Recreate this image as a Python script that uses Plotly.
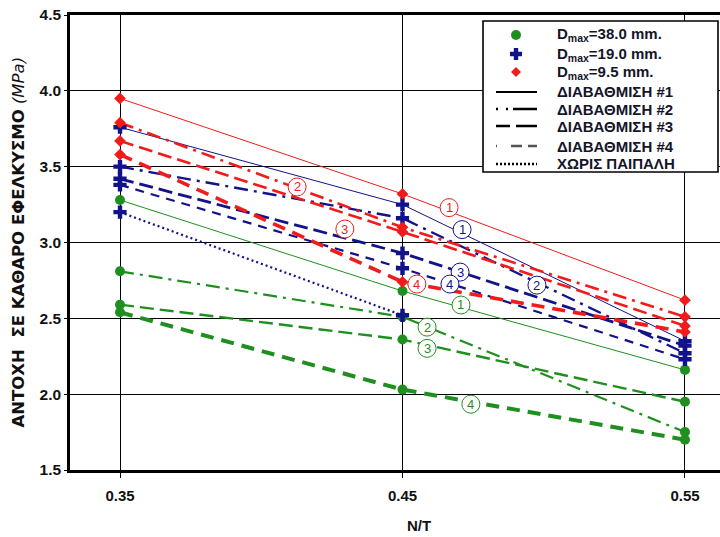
import plotly.graph_objects as go

# N/T ratios
nt = [0.35, 0.45, 0.55]
nt_no_fines = [0.35, 0.45]

# Tensile strength (MPa), Dmax = 38.0 mm (gradings #1..#4)
g38_1 = [3.28, 2.68, 2.16]
g38_2 = [2.81, 2.51, 1.75]
g38_3 = [2.59, 2.36, 1.95]
g38_4 = [2.54, 2.03, 1.70]

# Dmax = 19.0 mm
g19_1 = [3.76, 3.25, 2.35]
g19_2 = [3.50, 3.16, 2.27]
g19_3 = [3.42, 2.93, 2.32]
g19_4 = [3.38, 2.83, 2.23]
g19_nofines = [3.20, 2.52]

# Dmax = 9.5 mm
g95_1 = [3.95, 3.32, 2.62]
g95_2 = [3.79, 3.10, 2.51]
g95_3 = [3.67, 3.07, 2.45]
g95_4 = [3.58, 2.74, 2.41]

y_ticks = [1.5, 2.0, 2.5, 3.0, 3.5, 4.0, 4.5]
x_ticks = ["0.35", "0.45", "0.55"]

legend_marker_names = ["D<sub>max</sub>=38.0 mm.", "D<sub>max</sub>=19.0 mm.", "D<sub>max</sub>=9.5 mm."]
legend_line_names = ["ΔΙΑΒΑΘΜΙΣΗ #1", "ΔΙΑΒΑΘΜΙΣΗ #2", "ΔΙΑΒΑΘΜΙΣΗ #3",
                     "ΔΙΑΒΑΘΜΙΣΗ #4", "ΧΩΡΙΣ ΠΑΙΠΑΛΗ"]

GREEN = "#1f8f1f"
BLUE = "#12128a"
RED = "#f21a1a"
TXT = "#15152a"

marker_of = {
    GREEN: dict(symbol="circle", size=10, color=GREEN),
    BLUE: dict(symbol="cross", size=11, color=BLUE),
    RED: dict(symbol="diamond", size=9, color=RED),
}

DASH1 = "solid"
DASH2 = "14px,6px,3px,6px"
DASH3 = "14px,6px"
DASH4 = "13px,8px"
DOTS = "2px,3px"

series = [
    # (y, colour, dash, width)
    (g38_1, GREEN, DASH1, 1.0),
    (g38_2, GREEN, DASH2, 2.2),
    (g38_3, GREEN, DASH3, 2.4),
    (g38_4, GREEN, DASH4, 4.0),
    (g19_1, BLUE, DASH1, 1.0),
    (g19_2, BLUE, DASH2, 2.4),
    (g19_3, BLUE, DASH3, 2.8),
    (g19_4, BLUE, "9px,7px", 2.2),
    (g95_1, RED, DASH1, 1.0),
    (g95_2, RED, DASH2, 2.6),
    (g95_3, RED, DASH3, 2.6),
    (g95_4, RED, DASH4, 3.6),
]

fig = go.Figure()

for y, col, dash, w in series:
    fig.add_trace(go.Scatter(
        x=nt, y=y, mode="lines", showlegend=False, hoverinfo="skip",
        line=dict(color=col, dash=dash, width=w),
    ))

fig.add_trace(go.Scatter(
    x=nt_no_fines, y=g19_nofines, mode="lines", showlegend=False,
    line=dict(color=BLUE, dash=DOTS, width=2.2),
))

# point markers on top of the lines
for y, col, _, _ in series:
    fig.add_trace(go.Scatter(
        x=nt, y=y, mode="markers", showlegend=False, marker=marker_of[col],
    ))
fig.add_trace(go.Scatter(
    x=nt_no_fines, y=g19_nofines, mode="markers", showlegend=False,
    marker=marker_of[BLUE],
))

# ---- key box (built from shapes + annotations) ----
PLOT_L, PLOT_W, PLOT_B, PLOT_H = 70, 650, 470, 455


def px(xp):
    return (xp - PLOT_L) / PLOT_W


def py(yp):
    return (PLOT_B - yp) / PLOT_H


fig.add_shape(type="rect", xref="paper", yref="paper",
              x0=px(483), x1=px(718), y0=py(172), y1=py(21),
              line=dict(color="black", width=1.6), fillcolor="white", layer="above")

row_y = [35, 54, 72, 92, 109, 126, 146, 164]
sym_x = 516
text_x = 555

symbol_paths = {
    BLUE: "M-2.2,-6 L2.2,-6 L2.2,-2.2 L6,-2.2 L6,2.2 L2.2,2.2 L2.2,6 L-2.2,6 "
          "L-2.2,2.2 L-6,2.2 L-6,-2.2 L-2.2,-2.2 Z",
    RED: "M0,-5 L5,0 L0,5 L-5,0 Z",
}
for name, col, ry in zip(legend_marker_names, [GREEN, BLUE, RED], row_y[:3]):
    if col == GREEN:
        fig.add_shape(type="circle", xref="paper", yref="paper",
                      xsizemode="pixel", ysizemode="pixel",
                      xanchor=px(sym_x), yanchor=py(ry), x0=-5, x1=5, y0=-5, y1=5,
                      line=dict(width=0), fillcolor=col, layer="above")
    else:
        fig.add_shape(type="path", xref="paper", yref="paper",
                      xsizemode="pixel", ysizemode="pixel",
                      xanchor=px(sym_x), yanchor=py(ry), path=symbol_paths[col],
                      line=dict(width=0), fillcolor=col, layer="above")
    fig.add_annotation(x=px(text_x), y=py(ry), xref="paper", yref="paper",
                       xanchor="left", yanchor="middle", showarrow=False, text=f"<b>{name}</b>",
                       font=dict(family="Liberation Sans", size=15, color=TXT))

key_styles = [
    ("black", "solid", 2.2),
    ("black", "2px,8px,2px,5px,24px,3px", 2.6),
    ("black", "14px,6px,22px,3px", 2.6),
    ("#555555", "1px,14px,11px,6px,9px,4px", 2.4),
    ("black", "2px,2px", 2.4),
]
for name, (col, dash, w), ry in zip(legend_line_names, key_styles, row_y[3:]):
    fig.add_shape(type="line", xref="paper", yref="paper",
                  x0=px(496), x1=px(537), y0=py(ry), y1=py(ry),
                  line=dict(color=col, dash=dash, width=w), layer="above")
    fig.add_annotation(x=px(text_x), y=py(ry), xref="paper", yref="paper",
                       xanchor="left", yanchor="middle", showarrow=False, text=f"<b>{name}</b>",
                       font=dict(family="Liberation Sans", size=15, color=TXT))

# circled grading numbers next to the lines
labels = [
    ("1", RED, 0.4665, 3.23), ("1", BLUE, 0.4711, 3.085), ("1", GREEN, 0.4707, 2.588),
    ("2", RED, 0.4127, 3.366), ("2", BLUE, 0.4976, 2.719), ("2", GREEN, 0.4587, 2.442),
    ("3", RED, 0.4296, 3.089), ("3", BLUE, 0.4704, 2.805), ("3", GREEN, 0.4587, 2.302),
    ("4", RED, 0.4551, 2.726), ("4", BLUE, 0.4668, 2.726), ("4", GREEN, 0.4742, 1.934),
]
for txt, col, lx, ly in labels:
    fig.add_shape(type="circle", xref="x", yref="y", xsizemode="pixel", ysizemode="pixel",
                  xanchor=lx, yanchor=ly, x0=-9, x1=9, y0=-9, y1=9,
                  line=dict(color=col, width=1), fillcolor="white", layer="above")
    fig.add_annotation(x=lx, y=ly, xref="x", yref="y", text=txt, showarrow=False,
                       font=dict(family="Liberation Sans", size=13, color=col))

# axis titles
fig.add_annotation(
    x=-0.08, y=0.5, xref="paper", yref="paper", xanchor="center", yanchor="middle",
    textangle=-90, showarrow=False,
    text="<b>ΑΝΤΟΧΗ  ΣΕ ΚΑΘΑΡΟ ΕΦΕΛΚΥΣΜΟ</b> <i>(MPa)</i>",
    font=dict(family="DejaVu Sans", size=16.5, color="#111111"),
)
fig.add_annotation(
    x=0.456, y=-0.121, xref="x", yref="paper", xanchor="center", yanchor="middle",
    showarrow=False,
    text="<b>N/T</b>", font=dict(family="Liberation Sans", size=15, color="#111111"),
)

fig.update_layout(
    width=720, height=537,
    margin=dict(l=70, r=0, t=15, b=67),
    paper_bgcolor="white", plot_bgcolor="white",
    font=dict(family="Liberation Sans", color="#111111"),
    showlegend=False,
)
fig.update_xaxes(
    range=[0.3323, 0.5624], tickvals=nt, ticktext=x_ticks,
    showgrid=True, gridcolor="black", gridwidth=1.3,
    showline=True, linecolor="black", linewidth=2.5, mirror=True,
    ticks="outside", ticklen=5, tickcolor="black", ticklabelstandoff=5,
    tickfont=dict(family="Liberation Sans", size=15, weight="bold"),
    zeroline=False,
)
fig.update_yaxes(
    range=[1.5, 4.5], tickvals=y_ticks, ticktext=[f"{v:.1f}" for v in y_ticks],
    showgrid=True, gridcolor="black", gridwidth=1.3,
    showline=True, linecolor="black", linewidth=2.5, mirror=False,
    ticks="outside", ticklen=3, tickcolor="black",
    tickfont=dict(family="Liberation Sans", size=15.5, weight="bold"),
    zeroline=False,
)

fig.write_html("out.html")
